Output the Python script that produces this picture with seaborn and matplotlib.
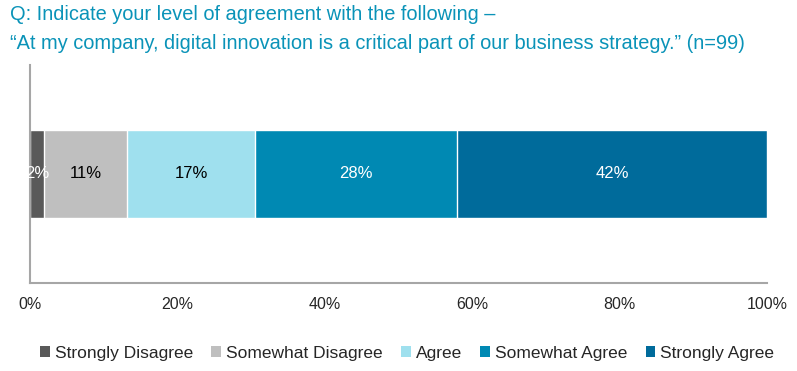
import numpy as np
import pandas as pd
import seaborn as sns
import matplotlib.pyplot as plt
from matplotlib.patches import Patch

# answer categories and shares (percent of respondents)
categories = ["Strongly Disagree", "Somewhat Disagree", "Agree", "Somewhat Agree", "Strongly Agree"]
shares = [1.9, 11.3, 17.3, 27.5, 42.0]
labels = ["2%", "11%", "17%", "28%", "42%"]
colors = ["#595959", "#bfbfbf", "#9fe0ee", "#0089b3", "#006b9b"]
label_colors = ["white", "black", "black", "white", "white"]

sns.set_style("white")
plt.rcParams["font.family"] = ["Liberation Sans", "DejaVu Sans"]

cum = np.cumsum(shares)
df = pd.DataFrame({"question": ["q"] * len(categories), "category": categories,
                   "share": shares, "cum": cum})

fig = plt.figure(figsize=(7.97, 3.71), dpi=100)
ax = fig.add_axes([0.0376, 0.2372, 0.9247, 0.5876])

# stacked bar: draw cumulative totals from the widest to the narrowest
for i in range(len(categories) - 1, -1, -1):
    sns.barplot(data=df.iloc[[i]], x="cum", y="question", color=colors[i],
                saturation=1, width=0.4, edgecolor="white", linewidth=1,
                ax=ax, orient="h")

for i in range(len(categories)):
    mid = cum[i] - shares[i] / 2
    ax.text(mid, 0, labels[i], ha="center", va="center", fontsize=12,
            color=label_colors[i])

ax.set_xlim(0, 100)
ax.set_ylim(0.5, -0.5)
ax.set_xticks([0, 20, 40, 60, 80, 100])
ax.set_xticklabels(["0%", "20%", "40%", "60%", "80%", "100%"], fontsize=11.5)
ax.set_yticks([])
ax.set_xlabel("")
ax.set_ylabel("")
ax.tick_params(axis="x", length=0, pad=10)
for s in ["top", "right"]:
    ax.spines[s].set_visible(False)
for s in ["left", "bottom"]:
    ax.spines[s].set_color("#a6a6a6")
    ax.spines[s].set_linewidth(1.5)

fig.text(0.0125, 0.96, "Q: Indicate your level of agreement with the following \u2013",
         fontsize=14.4, color="#0a93b8", ha="left", va="center")
fig.text(0.0125, 0.884, "\u201cAt my company, digital innovation is a critical part of our business strategy.\u201d (n=99)",
         fontsize=14.4, color="#0a93b8", ha="left", va="center")

handles = [Patch(facecolor=c, edgecolor="none") for c in colors]
fig.legend(handles, categories, loc="center", bbox_to_anchor=(0.511, 0.048), ncol=5,
           frameon=False, fontsize=12.5, handlelength=0.55, handleheight=0.55,
           handletextpad=0.3, columnspacing=1.05)

fig.savefig("out.png", dpi=100)
